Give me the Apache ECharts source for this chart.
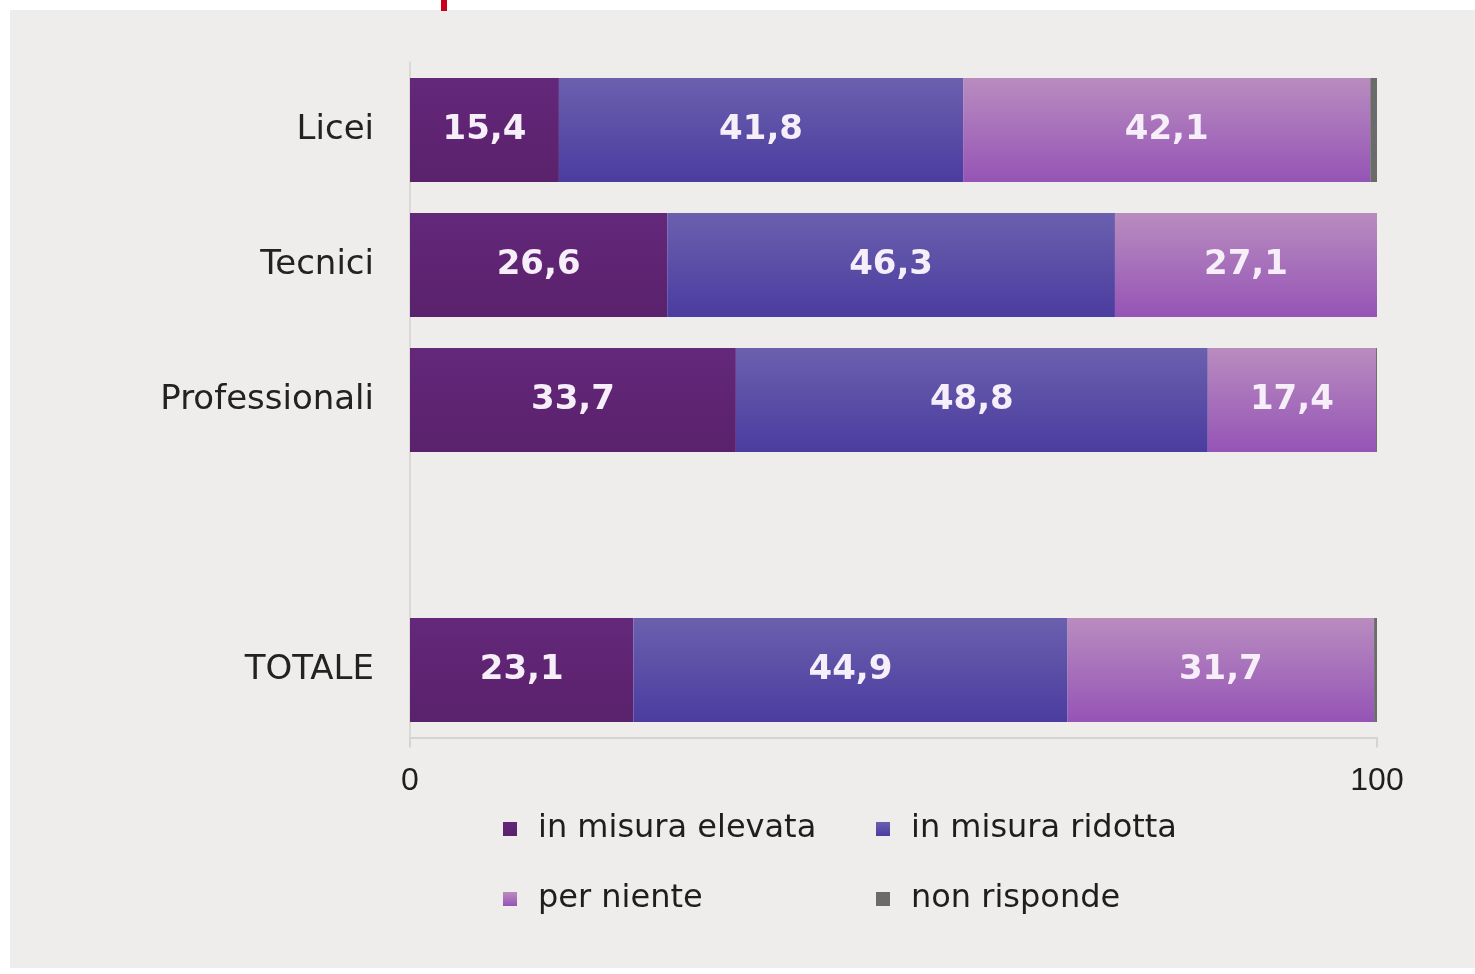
<!DOCTYPE html>
<html>
<head>
<meta charset="utf-8">
<script src="https://cdn.jsdelivr.net/npm/echarts@6/dist/echarts.min.js"></script>
<style>
  html, body { margin: 0; padding: 0; background: #ffffff; }
  #chart_con { width: 1475px; height: 974px; }
</style>
</head>
<body>
<div id="chart_con"></div>
<script>
// categories (blank row separates TOTALE from the school types)
const categories = ["Licei", "Tecnici", "Professionali", "", "TOTALE"];
const elevata = [15.4, 26.6, 33.7, null, 23.1];
const ridotta = [41.8, 46.3, 48.8, null, 44.9];
const perNiente = [42.1, 27.1, 17.4, null, 31.7];
const nonRisponde = [0.7, 0, 0.1, null, 0.3];
const xTicks = [0, 100];

function grad(top, bottom) {
  return new echarts.graphic.LinearGradient(0, 0, 0, 1, [
    { offset: 0, color: top },
    { offset: 1, color: bottom }
  ]);
}

const labelStyle = {
  show: true,
  position: "inside",
  color: "#f6eef8",
  fontFamily: "DejaVu Sans",
  fontWeight: "bold",
  fontSize: 34,
  formatter: p => p.value.toFixed(1).replace(".", ",")
};

const makeSerie = (name, data, color, label) => ({
  name: name,
  type: "bar",
  stack: "tot",
  barWidth: 104,
  data: data,
  itemStyle: { color: color },
  label: label ? labelStyle : { show: false },
  emphasis: { disabled: true }
});

const legendText = {
  fontFamily: "DejaVu Sans",
  fontSize: 32,
  color: "#1e1e1e",
  lineHeight: 40,
  padding: [0, 0, 0, 16]
};

const option = {
  backgroundColor: "#ffffff",
  animation: false,
  graphic: [
    {
      type: "rect",
      z: -10,
      shape: { x: 10, y: 10, width: 1465, height: 958 },
      style: { fill: "#eeedeb" }
    },
    {
      type: "rect",
      shape: { x: 441, y: 0, width: 6, height: 11 },
      style: { fill: "#c8001e" }
    }
  ],
  grid: { left: 410, right: 98, top: 62.5, bottom: 236.5, containLabel: false },
  legend: [
    {
      orient: "vertical",
      left: 503,
      top: 809,
      padding: 0,
      itemWidth: 14,
      itemHeight: 14,
      itemGap: 30,
      icon: "rect",
      data: ["in misura elevata", "per niente"],
      textStyle: legendText
    },
    {
      orient: "vertical",
      left: 876,
      top: 809,
      padding: 0,
      itemWidth: 14,
      itemHeight: 14,
      itemGap: 30,
      icon: "rect",
      data: ["in misura ridotta", "non risponde"],
      textStyle: legendText
    }
  ],
  xAxis: {
    type: "value",
    min: xTicks[0],
    max: xTicks[1],
    interval: 100,
    axisLine: { show: true, lineStyle: { color: "#d6d2cf", width: 2 } },
    axisTick: { show: true, length: 10, lineStyle: { color: "#d6d2cf", width: 2 } },
    axisLabel: { fontFamily: "Liberation Sans", fontSize: 32, color: "#1e1e1e", margin: 28 },
    splitLine: { show: false }
  },
  yAxis: {
    type: "category",
    inverse: true,
    data: categories,
    axisLine: { show: true, lineStyle: { color: "#dcd8d5", width: 2 } },
    axisTick: { show: false },
    axisLabel: { fontFamily: "DejaVu Sans", fontSize: 34, color: "#222222", margin: 36 }
  },
  series: [
    makeSerie("in misura elevata", elevata, grad("#63287a", "#5a216c"), true),
    makeSerie("in misura ridotta", ridotta, grad("#6a60ae", "#4b3c9f"), true),
    makeSerie("per niente", perNiente, grad("#b98cbf", "#9554b6"), true),
    makeSerie("non risponde", nonRisponde, "#6b6b6b", false)
  ]
};

const chart = echarts.init(document.getElementById("chart_con"));
chart.setOption(option);
window.addEventListener("resize", function() {
  chart.resize();
});
</script>
</body>
</html>
